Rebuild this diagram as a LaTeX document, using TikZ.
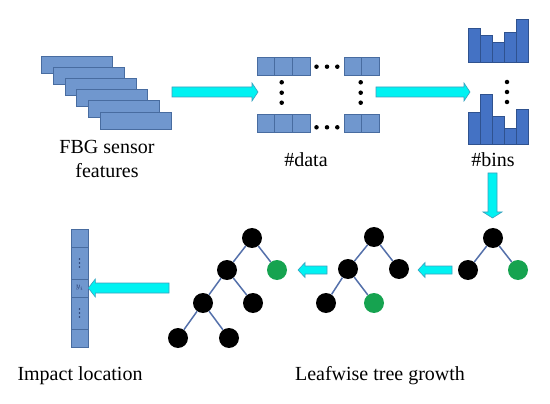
\documentclass[tikz,border=0pt]{standalone}
\usepackage{fontspec}
\setmainfont{Liberation Serif}
\usetikzlibrary{calc}
\definecolor{featblue}{RGB}{112,151,206}
\definecolor{featedge}{RGB}{72,108,160}
\definecolor{histblue}{RGB}{68,114,196}
\definecolor{histedge}{RGB}{47,82,143}
\definecolor{arrfill}{RGB}{0,242,242}
\definecolor{arredge}{RGB}{60,160,190}
\definecolor{leafgreen}{RGB}{22,163,80}
\definecolor{treeedge}{RGB}{84,112,170}
\definecolor{cellink}{RGB}{40,60,110}
\newcommand{\blockarrow}[5]{%
  \coordinate (tmpH) at ($(#2)!#5pt!(#1)$);
  \draw[barrow] ($(#1)!#3pt!90:(#2)$) -- ($(tmpH)!#3pt!90:(#2)$) -- ($(tmpH)!#4pt!90:(#2)$) -- (#2)
     -- ($(tmpH)!#4pt!-90:(#2)$) -- ($(tmpH)!#3pt!-90:(#2)$) -- ($(#1)!#3pt!-90:(#2)$) -- cycle;}
\begin{document}
\begin{tikzpicture}[x=1pt,y=-1pt,
  feat/.style={rectangle,draw=featedge,fill=featblue,line width=0.6pt,minimum width=71pt,minimum height=17pt,inner sep=0pt},
  cell/.style={rectangle,draw=featedge,fill=featblue,line width=0.6pt,minimum width=17.67pt,minimum height=18pt,inner sep=0pt},
  colcell/.style={rectangle,draw=featedge,fill=featblue,line width=0.6pt,minimum width=17pt,inner sep=0pt},
  hist/.style={draw=histedge,fill=histblue,line width=0.6pt},
  barrow/.style={draw=arredge,fill=arrfill,line width=0.6pt,line join=miter},
  inner/.style={circle,fill=black,minimum size=20pt,inner sep=0pt},
  leaf/.style={circle,fill=leafgreen,minimum size=20pt,inner sep=0pt},
  tedge/.style={draw=treeedge,line width=1.5pt},
  lbl/.style={font=\fontsize{20}{24}\selectfont,inner sep=0pt,align=center},
  bdot/.style={circle,fill=black,minimum size=4.5pt,inner sep=0pt}]
\useasboundingbox (0,0) rectangle (550,404);
\fill[white] (0,0) rectangle (550,404);

% FBG sensor features
\foreach \i in {1,...,6}
  \node[feat] (f\i) at ({76.5+11.9*(\i-1)},{64.5+11.2*(\i-1)}) {};
\node[lbl] (flbl) at (107,159) {FBG sensor\\features};

% data matrix
\foreach \i/\x in {1/265.8,2/283.5,3/301.2,4/352.75,5/370.25} {
  \node[cell] (dt\i) at (\x,66) {};
  \node[cell] (db\i) at (\x,123) {};
}
\foreach \x in {316.5,327,337.3} {
  \node[bdot] at (\x,66.7) {};
  \node[bdot] at (\x,127.3) {};
}
\foreach \y in {82.3,92.7,102.7} {
  \node[bdot] at (281.7,\y) {};
  \node[bdot] at (360.7,\y) {};
}
\node[lbl] (dlbl) at (306,160) {\#data};

% histograms
\foreach \t [count=\k from 0] in {28,35,42,32,19}
  \draw[hist] ({468.5+12*\k},62.5) rectangle ({480.5+12*\k},\t);
\foreach \t [count=\k from 0] in {112,94,116,128,109}
  \draw[hist] ({468.5+12*\k},144) rectangle ({480.5+12*\k},\t);
\foreach \y in {82,92,102}
  \node[bdot] at (507,\y) {};
\node[lbl] (blbl) at (493,160) {\#bins};

% tree 1
\node[inner] (ar) at (493,238) {};
\node[inner] (aa) at (468,270) {};
\node[leaf]  (ab) at (518,270) {};
\draw[tedge] (ar) -- (aa); \draw[tedge] (ar) -- (ab);

% tree 2
\node[inner] (br) at (374,237) {};
\node[inner] (ba) at (348,269) {};
\node[inner] (bb) at (399,269) {};
\node[inner] (bc) at (326,303) {};
\node[leaf]  (bd) at (374,303) {};
\draw[tedge] (br) -- (ba); \draw[tedge] (br) -- (bb);
\draw[tedge] (ba) -- (bc); \draw[tedge] (ba) -- (bd);

% tree 3
\node[inner] (cr) at (252,238) {};
\node[inner] (ca) at (227,270) {};
\node[leaf]  (cb) at (277,270) {};
\node[inner] (cc) at (203,303) {};
\node[inner] (cd) at (253,303) {};
\node[inner] (ce) at (178,338) {};
\node[inner] (cf) at (229,338) {};
\draw[tedge] (cr) -- (ca); \draw[tedge] (cr) -- (cb);
\draw[tedge] (ca) -- (cc); \draw[tedge] (ca) -- (cd);
\draw[tedge] (cc) -- (ce); \draw[tedge] (cc) -- (cf);

\node[lbl] (tlbl) at (380,376) {Leafwise tree growth};

% impact location column
\node[colcell,minimum height=18pt] (k1) at (79.5,238) {};
\node[colcell,minimum height=32pt] (k2) at (79.5,263) {};
\node[colcell,minimum height=18pt] (k3) at (79.5,288) {};
\node[colcell,minimum height=32pt] (k4) at (79.5,313) {};
\node[colcell,minimum height=18pt] (k5) at (79.5,338) {};
\foreach \d in {-4,0,4} {
  \fill[cellink] ($(k2.center)+(0,\d)$) circle (0.8);
  \fill[cellink] ($(k4.center)+(0,\d)$) circle (0.8);
}
\node[text=cellink,font=\fontsize{8}{9}\selectfont,inner sep=0pt] (yi) at (k3.center) {$y_i$};
\node[lbl] (ilbl) at (80,376) {Impact location};

% block arrows
\coordinate (a1s) at (172,92);   \coordinate (a1t) at (258,92);
\coordinate (a2s) at (376,92);   \coordinate (a2t) at (470,92);
\coordinate (a3s) at (492.5,173); \coordinate (a3t) at (492.5,218);
\coordinate (a4s) at (452,270);  \coordinate (a4t) at (418,270);
\coordinate (a5s) at (327,270);  \coordinate (a5t) at (298,270);
\coordinate (a6s) at (169,288);  \coordinate (a6t) at (k3.east);
\blockarrow{a1s}{a1t}{5}{9}{6}
\blockarrow{a2s}{a2t}{5}{9}{6}
\blockarrow{a3s}{a3t}{4.5}{9.5}{6}
\blockarrow{a4s}{a4t}{4}{7.5}{7}
\blockarrow{a5s}{a5t}{4}{7.5}{7}
\blockarrow{a6s}{a6t}{5}{9}{7}
\end{tikzpicture}
\end{document}
